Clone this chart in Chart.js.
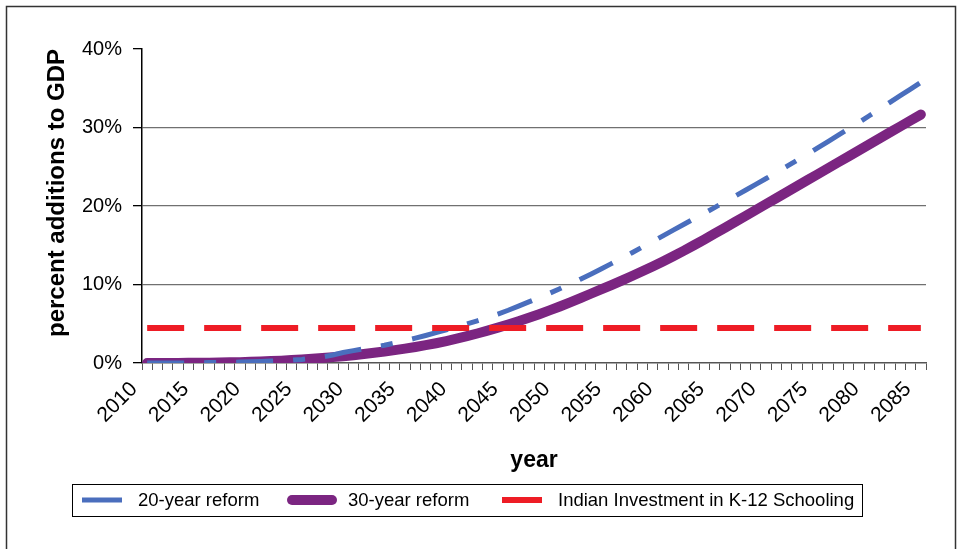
<!DOCTYPE html>
<html>
<head>
<meta charset="utf-8">
<script src="https://cdn.jsdelivr.net/npm/chart.js@4.4.1/dist/chart.umd.min.js"></script>
<style>
  html, body { margin: 0; padding: 0; background: #fff; }
  #wrap { width: 960px; height: 549px; position: relative; }
</style>
</head>
<body>
<div id="wrap"><canvas id="gdpChart" width="960" height="549"></canvas></div>
<script>
const years = [
  '2010','2011','2012','2013','2014','2015','2016','2017','2018','2019',
  '2020','2021','2022','2023','2024','2025','2026','2027','2028','2029',
  '2030','2031','2032','2033','2034','2035','2036','2037','2038','2039',
  '2040','2041','2042','2043','2044','2045','2046','2047','2048','2049',
  '2050','2051','2052','2053','2054','2055','2056','2057','2058','2059',
  '2060','2061','2062','2063','2064','2065','2066','2067','2068','2069',
  '2070','2071','2072','2073','2074','2075','2076','2077','2078','2079',
  '2080','2081','2082','2083','2084','2085'
];

// percent additions to GDP
const reform20 = [
  0, 0, 0.01, 0.01, 0.02, 0.03, 0.05, 0.07, 0.09, 0.12,
  0.16, 0.2, 0.25, 0.31, 0.38, 0.46, 0.6, 0.78, 1.02, 1.34,
  1.58, 1.81, 2.03, 2.26, 2.54, 2.84, 3.16, 3.5, 3.86, 4.23,
  4.6, 4.98, 5.38, 5.8, 6.24, 6.72, 7.24, 7.78, 8.32, 8.88,
  9.46, 10.06, 10.68, 11.32, 11.98, 12.66, 13.35, 14.05, 14.76, 15.48,
  16.2, 16.92, 17.64, 18.36, 19.08, 19.8, 20.53, 21.26, 22.0, 22.75,
  23.5, 24.27, 25.04, 25.82, 26.61, 27.41, 28.21, 29.02, 29.83, 30.65,
  31.5, 32.35, 33.2, 34.05, 34.9, 35.75
];
const reform30 = [
  0, 0, 0.01, 0.01, 0.02, 0.03, 0.04, 0.06, 0.08, 0.11,
  0.15, 0.19, 0.24, 0.3, 0.37, 0.45, 0.54, 0.64, 0.75, 0.87,
  1.0, 1.14, 1.3, 1.46, 1.64, 1.83, 2.04, 2.27, 2.52, 2.8,
  3.1, 3.42, 3.76, 4.12, 4.5, 4.9, 5.32, 5.76, 6.22, 6.7,
  7.2, 7.72, 8.26, 8.82, 9.37, 9.93, 10.5, 11.08, 11.68, 12.3,
  12.94, 13.6, 14.29, 15.0, 15.73, 16.47, 17.22, 17.97, 18.73, 19.49,
  20.25, 21.01, 21.77, 22.53, 23.29, 24.05, 24.81, 25.57, 26.33, 27.09,
  27.85, 28.61, 29.37, 30.13, 30.89, 31.65
];
const k12Share = 4.47;
const yTicks = [0, 10, 20, 30, 40];

const FONT = '"Liberation Sans", Arial, sans-serif';

const legendBox = { left: 72, top: 484, width: 790, height: 32, column: 210, sample: 40, gap: 16 };

// white background, outer frame, y title and the boxed legend
const decorations = {
  id: 'decorations',
  beforeDraw(chart) {
    const ctx = chart.ctx;
    ctx.save();
    ctx.fillStyle = '#fff';
    ctx.fillRect(0, 0, chart.width, chart.height);
    ctx.restore();
  },
  afterDraw(chart) {
    const ctx = chart.ctx;
    ctx.save();
    ctx.strokeStyle = '#333';
    ctx.lineWidth = 1.5;
    ctx.strokeRect(6.5, 6.5, 949, 600);

    ctx.translate(57, 193);
    ctx.rotate(-Math.PI / 2);
    ctx.font = 'bold 24px ' + FONT;
    ctx.textAlign = 'center';
    ctx.textBaseline = 'middle';
    ctx.fillStyle = '#000';
    ctx.fillText('percent additions to GDP', 0, 0);
    ctx.restore();

    ctx.save();
    ctx.strokeStyle = '#000';
    ctx.lineWidth = 1;
    ctx.strokeRect(legendBox.left + 0.5, legendBox.top + 0.5, legendBox.width, legendBox.height);
    const cy = legendBox.top + legendBox.height / 2;
    ctx.font = '18.5px ' + FONT;
    ctx.textBaseline = 'middle';
    ctx.fillStyle = '#000';
    chart.data.datasets.forEach((ds, i) => {
      const x0 = legendBox.left + 10 + i * legendBox.column;
      ctx.beginPath();
      ctx.setLineDash([]);
      ctx.strokeStyle = ds.borderColor;
      ctx.lineWidth = ds.borderWidth;
      ctx.lineCap = ds.borderCapStyle || 'butt';
      ctx.moveTo(x0, cy);
      ctx.lineTo(x0 + legendBox.sample, cy);
      ctx.stroke();
      ctx.fillText(ds.label, x0 + legendBox.sample + legendBox.gap, cy + 1);
    });
    ctx.restore();
  }
};

new Chart(document.getElementById('gdpChart'), {
  type: 'line',
  data: {
    labels: years,
    datasets: [
      {
        label: '20-year reform',
        data: reform20,
        borderColor: '#4a6ebd',
        borderWidth: 5,
        borderDash: [37, 20, 12, 20],
        order: 2
      },
      {
        label: '30-year reform',
        data: reform30,
        borderColor: '#7b2581',
        borderWidth: 10,
        borderCapStyle: 'round',
        borderJoinStyle: 'round',
        order: 3
      },
      {
        label: 'Indian Investment in K-12 Schooling',
        data: years.map(() => k12Share),
        borderColor: '#ee1c25',
        borderWidth: 6,
        borderDash: [37, 20],
        order: 1
      }
    ]
  },
  options: {
    responsive: false,
    animation: false,
    layout: { padding: { left: 10, right: 34, top: 49, bottom: 70 } },
    elements: { point: { radius: 0 }, line: { tension: 0, fill: false } },
    plugins: { legend: { display: false }, tooltip: { enabled: false } },
    scales: {
      x: {
        offset: true,
        grid: { offset: true, drawOnChartArea: false, drawTicks: true, tickLength: 7, color: '#555' },
        border: { color: '#555', width: 1.5 },
        ticks: {
          autoSkip: false,
          maxRotation: 45,
          minRotation: 45,
          padding: 7,
          labelOffset: -13,
          color: '#000',
          font: { family: FONT, size: 21 },
          callback(v, i) {
            return Number(years[i]) % 5 === 0 ? years[i] : '';
          }
        },
        title: {
          display: true,
          text: 'year',
          color: '#000',
          font: { family: FONT, size: 23, weight: 'bold' },
          padding: { top: 0, bottom: 5 }
        },
        afterFit(scale) { scale.height = 116; }
      },
      y: {
        min: 0,
        max: 40,
        afterBuildTicks(scale) { scale.ticks = yTicks.map(v => ({ value: v })); },
        ticks: {
          padding: 11,
          color: '#000',
          font: { family: FONT, size: 20 },
          callback: v => v + '%'
        },
        grid: {
          color: c => (c.tick && c.tick.value > 0 && c.tick.value < 40) ? '#707070' : 'rgba(0,0,0,0)',
          tickColor: '#000',
          tickLength: 9,
          lineWidth: 1.3
        },
        border: { color: '#000', width: 1.5 },
        afterFit(scale) { scale.width = 132; }
      }
    }
  },
  plugins: [decorations]
});
</script>
</body>
</html>
